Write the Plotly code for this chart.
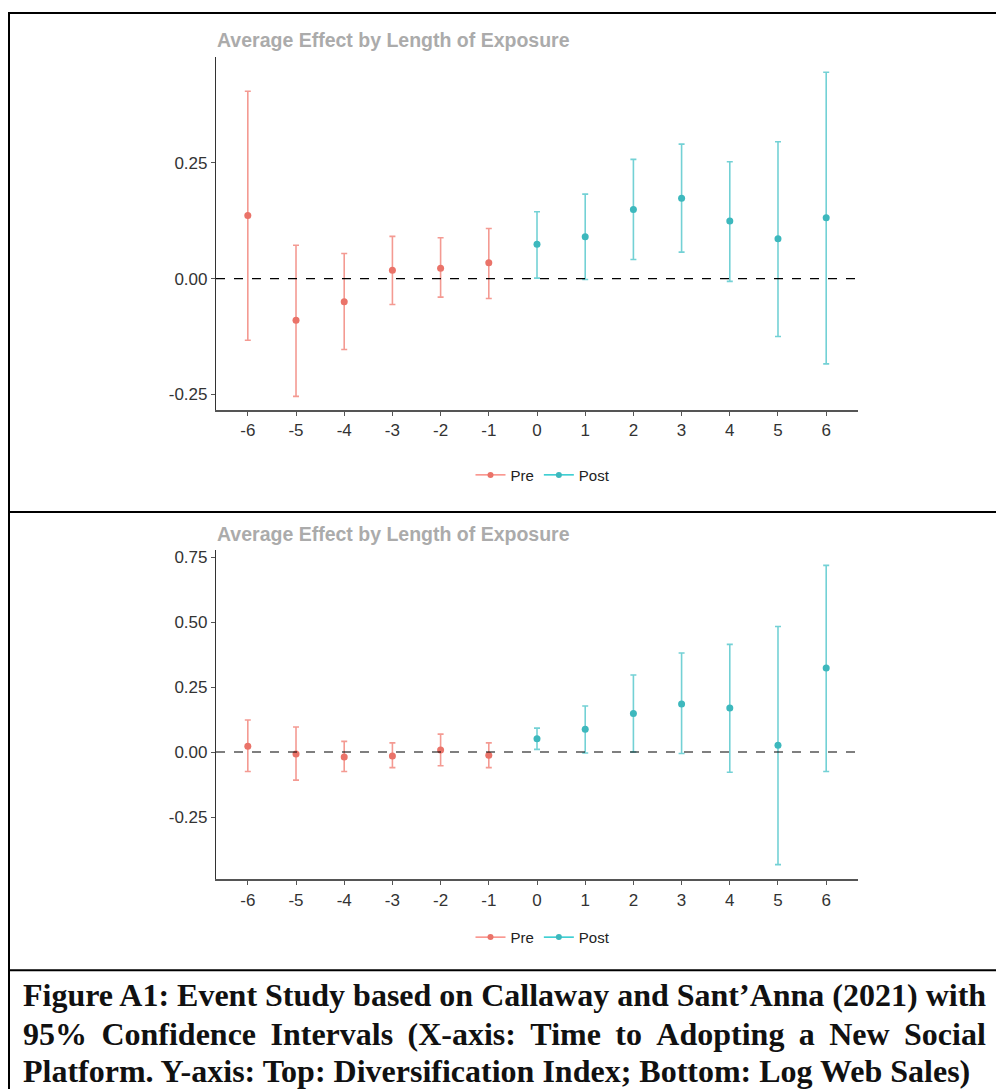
import plotly.graph_objects as go

W, H = 1004, 1089
OFF = 8  # page body margin of the html page

# ---------------- data ----------------
periods_pre = [-6, -5, -4, -3, -2, -1]
periods_post = [0, 1, 2, 3, 4, 5, 6]

# Top panel: Diversification Index
top_pre_est = [0.136, -0.090, -0.050, 0.018, 0.022, 0.034]
top_pre_lo = [-0.133, -0.254, -0.153, -0.056, -0.040, -0.043]
top_pre_hi = [0.404, 0.072, 0.054, 0.091, 0.088, 0.108]
top_post_est = [0.074, 0.090, 0.149, 0.173, 0.124, 0.086, 0.131]
top_post_lo = [0.001, -0.002, 0.041, 0.057, -0.006, -0.125, -0.184]
top_post_hi = [0.144, 0.182, 0.257, 0.290, 0.252, 0.295, 0.445]

# Bottom panel: Log Web Sales
bot_pre_est = [0.022, -0.008, -0.019, -0.015, 0.008, -0.012]
bot_pre_lo = [-0.075, -0.108, -0.075, -0.060, -0.053, -0.060]
bot_pre_hi = [0.123, 0.096, 0.041, 0.035, 0.069, 0.035]
bot_post_est = [0.051, 0.088, 0.148, 0.185, 0.169, 0.026, 0.323]
bot_post_lo = [0.010, -0.004, 0.000, -0.006, -0.078, -0.433, -0.075]
bot_post_hi = [0.092, 0.177, 0.296, 0.381, 0.414, 0.483, 0.718]

x_tickvals = [-6, -5, -4, -3, -2, -1, 0, 1, 2, 3, 4, 5, 6]
x_ticktext = ["-6", "-5", "-4", "-3", "-2", "-1", "0", "1", "2", "3", "4", "5", "6"]
top_y_tickvals = [-0.25, 0.0, 0.25]
top_y_ticktext = ["-0.25", "0.00", "0.25"]
bot_y_tickvals = [-0.25, 0.0, 0.25, 0.50, 0.75]
bot_y_ticktext = ["-0.25", "0.00", "0.25", "0.50", "0.75"]

panel_title = "Average Effect by Length of Exposure"
caption_lines = [
    "Figure A1: Event Study based on Callaway and Sant\u2019Anna (2021) with",
    "95% Confidence Intervals (X-axis: Time to Adopting a New Social",
    "Platform. Y-axis: Top: Diversification Index; Bottom: Log Web Sales)",
]

PRE = "#F8766D"
POST = "#00BFC4"
PRE_BAR = "rgba(240,120,110,0.75)"
POST_BAR = "rgba(40,185,190,0.65)"
PRE_PT = "#EA7369"
POST_PT = "#3DB8BD"


def px(x):
    return (x - OFF) / W


def py(y):
    return 1 - (y - OFF) / H


fig = go.Figure()


def add_series(xs, est, lo, hi, xa, ya, bar_col, pt_col):
    fig.add_trace(go.Scatter(
        x=xs, y=est, mode="markers", xaxis=xa, yaxis=ya, showlegend=False,
        marker=dict(color=pt_col, size=7),
        error_y=dict(type="data", symmetric=False,
                     array=[h - e for h, e in zip(hi, est)],
                     arrayminus=[e - l for e, l in zip(est, lo)],
                     color=bar_col, thickness=1.6, width=3),
    ))


add_series(periods_pre, top_pre_est, top_pre_lo, top_pre_hi, "x", "y", PRE_BAR, PRE_PT)
add_series(periods_post, top_post_est, top_post_lo, top_post_hi, "x", "y", POST_BAR, POST_PT)
add_series(periods_pre, bot_pre_est, bot_pre_lo, bot_pre_hi, "x2", "y2", PRE_BAR, PRE_PT)
add_series(periods_post, bot_post_est, bot_post_lo, bot_post_hi, "x2", "y2", POST_BAR, POST_PT)

# legend entries (one legend per panel)
for name, col, pcol in [("Pre", PRE, PRE_PT), ("Post", POST, POST_PT)]:
    fig.add_trace(go.Scatter(x=[None], y=[None], mode="lines+markers", name=name,
                             line=dict(color=col, width=1.2), marker=dict(color=pcol, size=6),
                             xaxis="x", yaxis="y", legend="legend"))
    fig.add_trace(go.Scatter(x=[None], y=[None], mode="lines+markers", name=name,
                             line=dict(color=col, width=1.2), marker=dict(color=pcol, size=6),
                             xaxis="x2", yaxis="y2", legend="legend2"))

SANS = "Liberation Sans, Arial, sans-serif"
xdom = [px(216), px(858)]
tick_font = dict(family=SANS, size=17, color="#333333")

xaxis_common = dict(
    domain=xdom, range=[-6.66, 6.66], tickvals=x_tickvals, ticktext=x_ticktext,
    showgrid=False, zeroline=False, showline=True, linecolor="#555555", linewidth=1.5,
    ticks="outside", ticklen=4, tickcolor="#555555", tickfont=tick_font,
)
yaxis_common = dict(
    showgrid=False, zeroline=False, showline=True, linecolor="#333333", linewidth=1.2,
    ticks="outside", ticklen=4, tickcolor="#555555", tickfont=tick_font,
)

legend_common = dict(orientation="h", xanchor="center", yanchor="middle",
                     font=dict(family=SANS, size=15, color="#222"),
                     itemwidth=30, bgcolor="rgba(0,0,0,0)")

fig.update_layout(
    width=W, height=H,
    margin=dict(l=0, r=0, t=0, b=0),
    paper_bgcolor="white", plot_bgcolor="white",
    xaxis=dict(**xaxis_common, anchor="y"),
    yaxis=dict(**yaxis_common, domain=[py(409), py(55)], range=[-0.284, 0.478],
               tickvals=top_y_tickvals, ticktext=top_y_ticktext, anchor="x"),
    xaxis2=dict(**xaxis_common, anchor="y2"),
    yaxis2=dict(**yaxis_common, domain=[py(879), py(549)], range=[-0.49, 0.777],
                tickvals=bot_y_tickvals, ticktext=bot_y_ticktext, anchor="x2"),
    legend=dict(**legend_common, x=px(543), y=py(474)),
    legend2=dict(**legend_common, x=px(543), y=py(937)),
)

# dashed zero lines
for xa, ya in [("x", "y"), ("x2", "y2")]:
    fig.add_shape(type="line", xref=f"{xa} domain", yref=ya, x0=0, x1=1, y0=0, y1=0,
                  line=dict(color="black", width=1.2, dash="dash"))

# panel titles
for ty in [38, 533]:
    fig.add_annotation(text="<b>" + panel_title + "</b>", xref="paper", yref="paper",
                       x=px(215), y=py(ty), xanchor="left", yanchor="middle", showarrow=False,
                       font=dict(family=SANS, size=19.5, color="#ABABAB"))

# frame lines
frame = dict(color="black", width=2)
fig.add_shape(type="line", xref="paper", yref="paper", x0=px(9), x1=px(9), y0=-0.05, y1=py(11), line=frame)
for yy in [11, 511, 970]:
    fig.add_shape(type="line", xref="paper", yref="paper", x0=px(8), x1=1.02, y0=py(yy), y1=py(yy), line=frame)

# caption (second line justified: widen its word gaps with a thin space)
cap_font = dict(family="Liberation Serif, Times New Roman, serif", size=32, color="#111111")
cap_text = [caption_lines[0], caption_lines[1].replace(" ", " \u2009"), caption_lines[2]]
for line, yy in zip(cap_text, [995, 1034, 1071]):
    fig.add_annotation(text="<b>" + line + "</b>", xref="paper", yref="paper",
                       x=px(21), y=py(yy), xanchor="left", yanchor="middle", showarrow=False,
                       font=cap_font)

fig.write_html("out.html")
